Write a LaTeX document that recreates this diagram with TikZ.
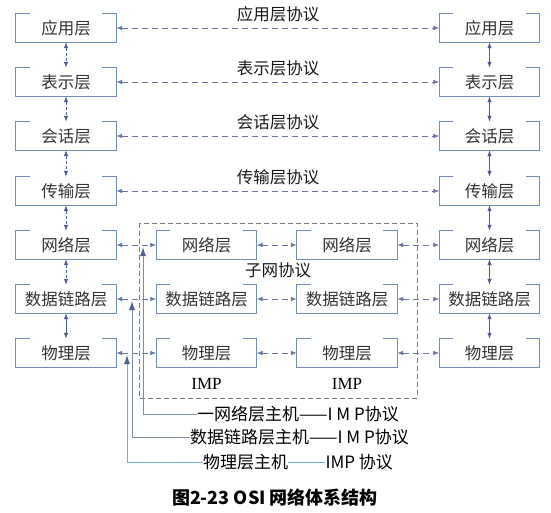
\documentclass[tikz,border=0pt]{standalone}
\usepackage{fontspec}
\newfontfamily\cjk{Noto Sans CJK SC}
\newfontfamily\impfont{Liberation Serif}
\definecolor{osiFrame}{HTML}{6F8DB5}
\definecolor{osiArrow}{HTML}{4F5E92}
\definecolor{osiGrey}{HTML}{7A7A7A}
\definecolor{osiHost}{HTML}{7F8CA6}
\definecolor{osiLight}{HTML}{74ACD6}
\usetikzlibrary{
	arrows.meta,
	positioning
}

\begin{document}
\begin{tikzpicture}[x=1pt,y=-1pt,
		layer/.style={minimum width=100pt,minimum height=28pt,inner sep=0pt,font=\cjk\fontsize{16.5}{18}\selectfont,text=black!80},
		frame/.style={draw=osiFrame,line width=0.9pt},
		peer/.style={{Latex[length=6pt,width=4.5pt]}-{Latex[length=6pt,width=4.5pt]},draw=osiArrow!85,dash pattern=on 6pt off 4pt,line width=0.7pt},
		updown/.style={{Latex[length=6pt,width=4.5pt]}-{Latex[length=6pt,width=4.5pt]},draw=osiArrow,line width=0.8pt},
		protolabel/.style={font=\cjk\fontsize{16.5}{18}\selectfont,text=black!90},
		implabel/.style={font=\impfont\fontsize{17}{18}\selectfont},
		hostlabel/.style={font=\cjk\fontsize{17}{18}\selectfont,inner sep=0pt,anchor=west},
		hostline/.style={draw=osiHost,line width=0.9pt,-{Latex[length=9pt,width=6pt,color=osiArrow]}}]
		\useasboundingbox (0,0) rectangle (551,513);
		% end systems
		\foreach \i/\y/\txt in {1/28/应用层,2/82/表示层,3/136/会话层,4/191/传输层,5/245/网络层,6/299/数据链路层,7/353/物理层}{
			\node[layer] (l\i) at (66,\y) {\txt};
			\node[layer] (r\i) at (489.5,\y) {\txt};
		}
		% IMPs
		\foreach \i/\y/\txt in {5/245/网络层,6/299/数据链路层,7/353/物理层}{
			\node[layer] (a\i) at (206.5,\y) {\txt};
			\node[layer] (b\i) at (347,\y) {\txt};
		}
		\foreach \n in {l1,l2,l3,l4,l5,l6,l7,r1,r2,r3,r4,r5,r6,r7,a5,a6,a7,b5,b6,b7}
			\draw[frame] (\n.north west) ++(14,0) -| (\n.south west) -| (\n.north east) -- ++(-14,0);
		% peer protocols
		\foreach \i/\y/\txt in {1/28/应用层,2/82/表示层,3/136/会话层,4/191/传输层}{
			\draw[peer] (l\i) -- (r\i);
			\node[protolabel] (p\i) at (278,\y-14) {{\txt}协议};
		}
		\foreach \i in {5,6,7}{
			\draw[peer] (l\i) -- (a\i);
			\draw[peer] (a\i) -- (b\i);
			\draw[peer] (b\i) -- (r\i);
		}
		% layer to layer
		\foreach \i/\j in {1/2,2/3,3/4,4/5,5/6}
			\draw[updown,dash pattern=on 3pt off 2pt] (l\i) -- (l\j);
		\draw[updown] (l6) -- (l7);
		\foreach \i/\j in {1/2,2/3,3/4,4/5,5/6,6/7}
			\draw[updown] (r\i) -- (r\j);
		% subnet
		\draw[osiGrey,line width=0.8pt,dash pattern=on 5pt off 3pt] (139,223) rectangle (417,398);
		\node[protolabel] (subnet) at (278,270) {子网协议};
		\node[implabel] (imp1) at (206.5,384) {IMP};
		\node[implabel] (imp2) at (347,384) {IMP};
		% host--IMP protocols
		\coordinate[yshift=-2pt] (h5) at (143,0 |- l5.east);
		\coordinate[yshift=-2pt] (h6) at (132,0 |- l6.east);
		\coordinate[yshift=-2pt] (h7) at (127,0 |- l7.east);
		\node[hostlabel] (t5) at (197,414) {一网络层主机——I M P协议};
		\node[hostlabel] (t6) at (190,437) {数据链路层主机——I M P协议};
		\node[hostlabel] (t7) at (203,462) {物理层主机};
		\node[hostlabel,right=37pt of t7] (t7b) {IMP 协议};
		\draw[hostline] (t5.west) -| (h5);
		\draw[hostline] (t6.west) -| (h6);
		\draw[hostline,draw=osiLight] (t7.west) -| (h7);
		\draw[osiLight,line width=0.9pt] (t7) -- (t7b);
		\node[font=\cjk\fontsize{18}{20}\selectfont\bfseries] (caption) at (275,498) {图2-23 OSI 网络体系结构};
	\end{tikzpicture}
\end{document}
